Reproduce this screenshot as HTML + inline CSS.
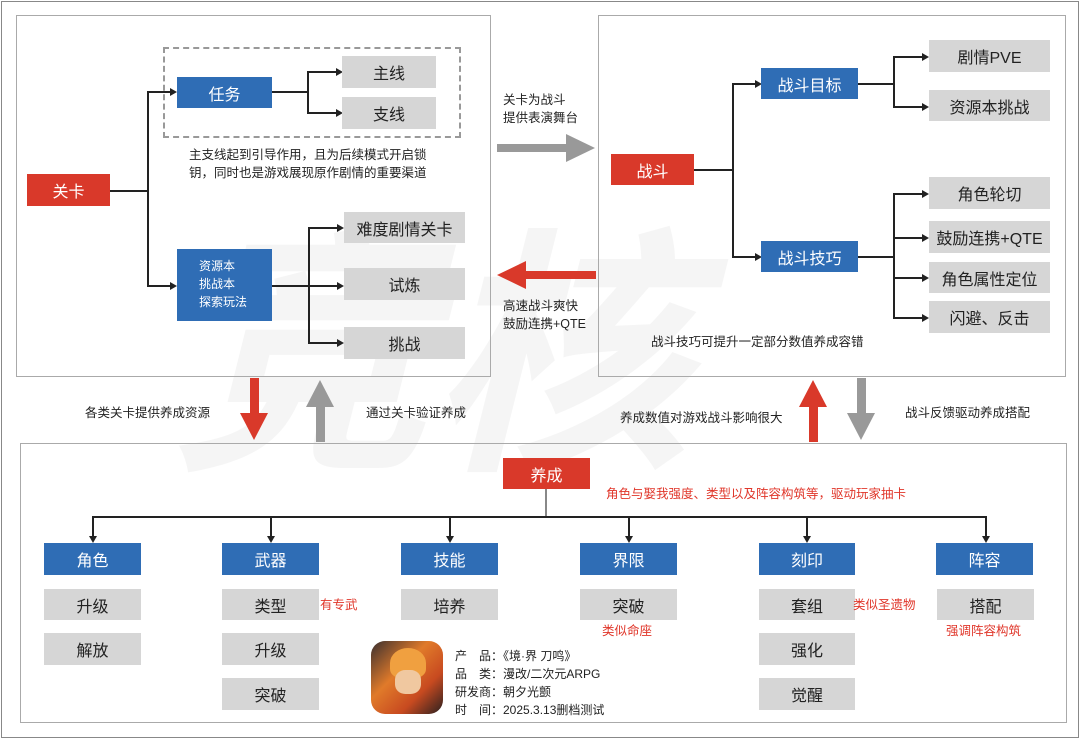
<!DOCTYPE html>
<html><head><meta charset="utf-8"><style>
body{margin:0;width:1080px;height:739px;background:#fff;position:relative;overflow:hidden;font-family:"Liberation Sans","Noto Sans CJK SC",sans-serif;}
.a{position:absolute;box-sizing:border-box}
.b{position:absolute;box-sizing:border-box;display:flex;align-items:center;justify-content:center;color:#fff;font-size:16px}
.blue{background:#2f6db5}
.red{background:#d9392a}
.g{background:#d6d6d6;color:#222}
.t{position:absolute;font-size:12.5px;color:#222;white-space:nowrap;line-height:18px}
.r{color:#e0362a}
.hl{position:absolute;height:1.5px;background:#222}
.vl{position:absolute;width:1.5px;background:#222}
.ar{position:absolute;width:0;height:0;border-top:4px solid transparent;border-bottom:4px solid transparent;border-left:7px solid #222}
.ad{position:absolute;width:0;height:0;border-left:4px solid transparent;border-right:4px solid transparent;border-top:7px solid #222}
</style></head><body>
<div class="a" style="left:1px;top:1px;width:1078px;height:737px;border:1.5px solid #888"></div>
<div class="a" style="left:170px;top:230px;font-size:260px;font-weight:bold;color:rgba(0,0,0,0.04);font-style:italic;line-height:260px">竞核</div>

<!-- left panel -->
<div class="a" style="left:16px;top:15px;width:475px;height:362px;border:1.5px solid #aaa"></div>
<div class="a" style="left:163px;top:47px;width:298px;height:91px;border:2px dashed #999"></div>
<div class="b red" style="left:27px;top:174px;width:83px;height:32px">关卡</div>
<div class="hl" style="left:110px;top:190px;width:38px"></div>
<div class="vl" style="left:147px;top:91px;height:195px"></div>
<div class="hl" style="left:147px;top:91px;width:24px"></div><div class="ar" style="left:170px;top:88px"></div>
<div class="hl" style="left:147px;top:285px;width:24px"></div><div class="ar" style="left:170px;top:282px"></div>
<div class="b blue" style="left:177px;top:77px;width:95px;height:31px">任务</div>
<div class="hl" style="left:272px;top:91px;width:36px"></div>
<div class="vl" style="left:307px;top:71px;height:42px"></div>
<div class="hl" style="left:307px;top:71px;width:30px"></div><div class="ar" style="left:336px;top:68px"></div>
<div class="hl" style="left:307px;top:112px;width:30px"></div><div class="ar" style="left:336px;top:109px"></div>
<div class="b g" style="left:342px;top:56px;width:94px;height:32px">主线</div>
<div class="b g" style="left:342px;top:97px;width:94px;height:32px">支线</div>
<div class="t" style="left:189px;top:146px">主支线起到引导作用，且为后续模式开启锁<br>钥，同时也是游戏展现原作剧情的重要渠道</div>
<div class="a blue" style="left:177px;top:249px;width:95px;height:72px;color:#fff;font-size:12px;line-height:18px;padding:8px 0 0 22px">资源本<br>挑战本<br>探索玩法</div>
<div class="hl" style="left:272px;top:285px;width:66px"></div><div class="ar" style="left:337px;top:282px"></div>
<div class="vl" style="left:308px;top:227px;height:116px"></div>
<div class="hl" style="left:308px;top:227px;width:30px"></div><div class="ar" style="left:337px;top:224px"></div>
<div class="hl" style="left:308px;top:342px;width:30px"></div><div class="ar" style="left:337px;top:339px"></div>
<div class="b g" style="left:344px;top:212px;width:121px;height:31px">难度剧情关卡</div>
<div class="b g" style="left:344px;top:268px;width:121px;height:32px">试炼</div>
<div class="b g" style="left:344px;top:327px;width:121px;height:32px">挑战</div>

<!-- middle -->
<div class="t" style="left:503px;top:91px">关卡为战斗<br>提供表演舞台</div>
<div class="a" style="left:497px;top:144px;width:70px;height:8px;background:#999"></div>
<div class="a" style="left:566px;top:134px;border-top:14px solid transparent;border-bottom:14px solid transparent;border-left:29px solid #999"></div>
<div class="a" style="left:526px;top:271px;width:70px;height:8px;background:#d9392a"></div>
<div class="a" style="left:497px;top:261px;border-top:14px solid transparent;border-bottom:14px solid transparent;border-right:29px solid #d9392a"></div>
<div class="t" style="left:503px;top:297px">高速战斗爽快<br>鼓励连携+QTE</div>

<!-- right panel -->
<div class="a" style="left:598px;top:15px;width:468px;height:362px;border:1.5px solid #aaa"></div>
<div class="b red" style="left:611px;top:154px;width:83px;height:31px">战斗</div>
<div class="hl" style="left:694px;top:169px;width:39px"></div>
<div class="vl" style="left:732px;top:83px;height:174px"></div>
<div class="hl" style="left:732px;top:83px;width:24px"></div><div class="ar" style="left:755px;top:80px"></div>
<div class="hl" style="left:732px;top:256px;width:24px"></div><div class="ar" style="left:755px;top:253px"></div>
<div class="b blue" style="left:761px;top:68px;width:97px;height:31px">战斗目标</div>
<div class="b blue" style="left:761px;top:241px;width:97px;height:31px">战斗技巧</div>
<div class="hl" style="left:858px;top:83px;width:36px"></div>
<div class="vl" style="left:893px;top:56px;height:51px"></div>
<div class="hl" style="left:893px;top:56px;width:30px"></div><div class="ar" style="left:922px;top:53px"></div>
<div class="hl" style="left:893px;top:106px;width:30px"></div><div class="ar" style="left:922px;top:103px"></div>
<div class="hl" style="left:858px;top:256px;width:36px"></div>
<div class="vl" style="left:893px;top:193px;height:125px"></div>
<div class="hl" style="left:893px;top:193px;width:30px"></div><div class="ar" style="left:922px;top:190px"></div>
<div class="hl" style="left:893px;top:237px;width:30px"></div><div class="ar" style="left:922px;top:234px"></div>
<div class="hl" style="left:893px;top:277px;width:30px"></div><div class="ar" style="left:922px;top:274px"></div>
<div class="hl" style="left:893px;top:317px;width:30px"></div><div class="ar" style="left:922px;top:314px"></div>
<div class="b g" style="left:929px;top:40px;width:121px;height:32px">剧情PVE</div>
<div class="b g" style="left:929px;top:90px;width:121px;height:31px">资源本挑战</div>
<div class="b g" style="left:929px;top:177px;width:121px;height:32px">角色轮切</div>
<div class="b g" style="left:929px;top:221px;width:121px;height:32px">鼓励连携+QTE</div>
<div class="b g" style="left:929px;top:262px;width:121px;height:31px">角色属性定位</div>
<div class="b g" style="left:929px;top:301px;width:121px;height:32px">闪避、反击</div>
<div class="t" style="left:651px;top:333px">战斗技巧可提升一定部分数值养成容错</div>

<!-- vertical arrows -->
<div class="a" style="left:250px;top:378px;width:9px;height:36px;background:#d9392a"></div>
<div class="a" style="left:240px;top:413px;border-left:14px solid transparent;border-right:14px solid transparent;border-top:27px solid #d9392a"></div>
<div class="a" style="left:316px;top:406px;width:9px;height:36px;background:#999"></div>
<div class="a" style="left:306px;top:380px;border-left:14px solid transparent;border-right:14px solid transparent;border-bottom:27px solid #999"></div>
<div class="t" style="left:85px;top:404px">各类关卡提供养成资源</div>
<div class="t" style="left:366px;top:404px">通过关卡验证养成</div>
<div class="a" style="left:809px;top:406px;width:9px;height:36px;background:#d9392a"></div>
<div class="a" style="left:799px;top:380px;border-left:14px solid transparent;border-right:14px solid transparent;border-bottom:27px solid #d9392a"></div>
<div class="a" style="left:857px;top:378px;width:9px;height:36px;background:#999"></div>
<div class="a" style="left:847px;top:413px;border-left:14px solid transparent;border-right:14px solid transparent;border-top:27px solid #999"></div>
<div class="t" style="left:620px;top:409px">养成数值对游戏战斗影响很大</div>
<div class="t" style="left:905px;top:404px">战斗反馈驱动养成搭配</div>

<!-- bottom panel -->
<div class="a" style="left:20px;top:443px;width:1047px;height:280px;border:1.5px solid #aaa"></div>
<div class="b red" style="left:503px;top:458px;width:87px;height:31px">养成</div>
<div class="t r" style="left:606px;top:485px">角色与娶我强度、类型以及阵容构筑等，驱动玩家抽卡</div>
<div class="vl" style="left:545px;top:489px;height:28px;background:#888"></div>
<div class="hl" style="left:92px;top:516px;width:894px"></div>
<div class="vl" style="left:92px;top:516px;height:21px"></div><div class="ad" style="left:89px;top:536px"></div>
<div class="vl" style="left:270px;top:516px;height:21px"></div><div class="ad" style="left:267px;top:536px"></div>
<div class="vl" style="left:449px;top:516px;height:21px"></div><div class="ad" style="left:446px;top:536px"></div>
<div class="vl" style="left:628px;top:516px;height:21px"></div><div class="ad" style="left:625px;top:536px"></div>
<div class="vl" style="left:806px;top:516px;height:21px"></div><div class="ad" style="left:803px;top:536px"></div>
<div class="vl" style="left:985px;top:516px;height:21px"></div><div class="ad" style="left:982px;top:536px"></div>
<div class="b blue" style="left:44px;top:543px;width:97px;height:32px">角色</div>
<div class="b blue" style="left:222px;top:543px;width:97px;height:32px">武器</div>
<div class="b blue" style="left:401px;top:543px;width:97px;height:32px">技能</div>
<div class="b blue" style="left:580px;top:543px;width:97px;height:32px">界限</div>
<div class="b blue" style="left:759px;top:543px;width:96px;height:32px">刻印</div>
<div class="b blue" style="left:936px;top:543px;width:97px;height:32px">阵容</div>
<div class="b g" style="left:44px;top:589px;width:97px;height:31px">升级</div>
<div class="b g" style="left:44px;top:633px;width:97px;height:32px">解放</div>
<div class="b g" style="left:222px;top:589px;width:97px;height:31px">类型</div>
<div class="b g" style="left:222px;top:633px;width:97px;height:32px">升级</div>
<div class="b g" style="left:222px;top:678px;width:97px;height:32px">突破</div>
<div class="b g" style="left:401px;top:589px;width:97px;height:31px">培养</div>
<div class="b g" style="left:580px;top:589px;width:97px;height:31px">突破</div>
<div class="b g" style="left:759px;top:589px;width:96px;height:31px">套组</div>
<div class="b g" style="left:759px;top:633px;width:96px;height:32px">强化</div>
<div class="b g" style="left:759px;top:678px;width:96px;height:32px">觉醒</div>
<div class="b g" style="left:937px;top:589px;width:97px;height:31px">搭配</div>
<div class="t r" style="left:320px;top:596px">有专武</div>
<div class="t r" style="left:602px;top:622px">类似命座</div>
<div class="t r" style="left:853px;top:596px">类似圣遗物</div>
<div class="t r" style="left:946px;top:622px">强调阵容构筑</div>
<div class="a" style="left:371px;top:641px;width:72px;height:73px;border-radius:14px;background:linear-gradient(135deg,#3a3030 0%,#e07a2a 40%,#c84a20 70%,#2a2020 100%)"></div>
<div class="a" style="left:390px;top:648px;width:36px;height:30px;border-radius:50% 50% 30% 30%;background:#f0a040"></div>
<div class="a" style="left:395px;top:670px;width:26px;height:24px;border-radius:40%;background:#f0c8a0"></div>
<div class="t" style="left:455px;top:647px;line-height:18px;font-size:12px">产　品：《境·界 刀鸣》<br>品　类：漫改/二次元ARPG<br>研发商：朝夕光颤<br>时　间：2025.3.13删档测试</div>
</body></html>
